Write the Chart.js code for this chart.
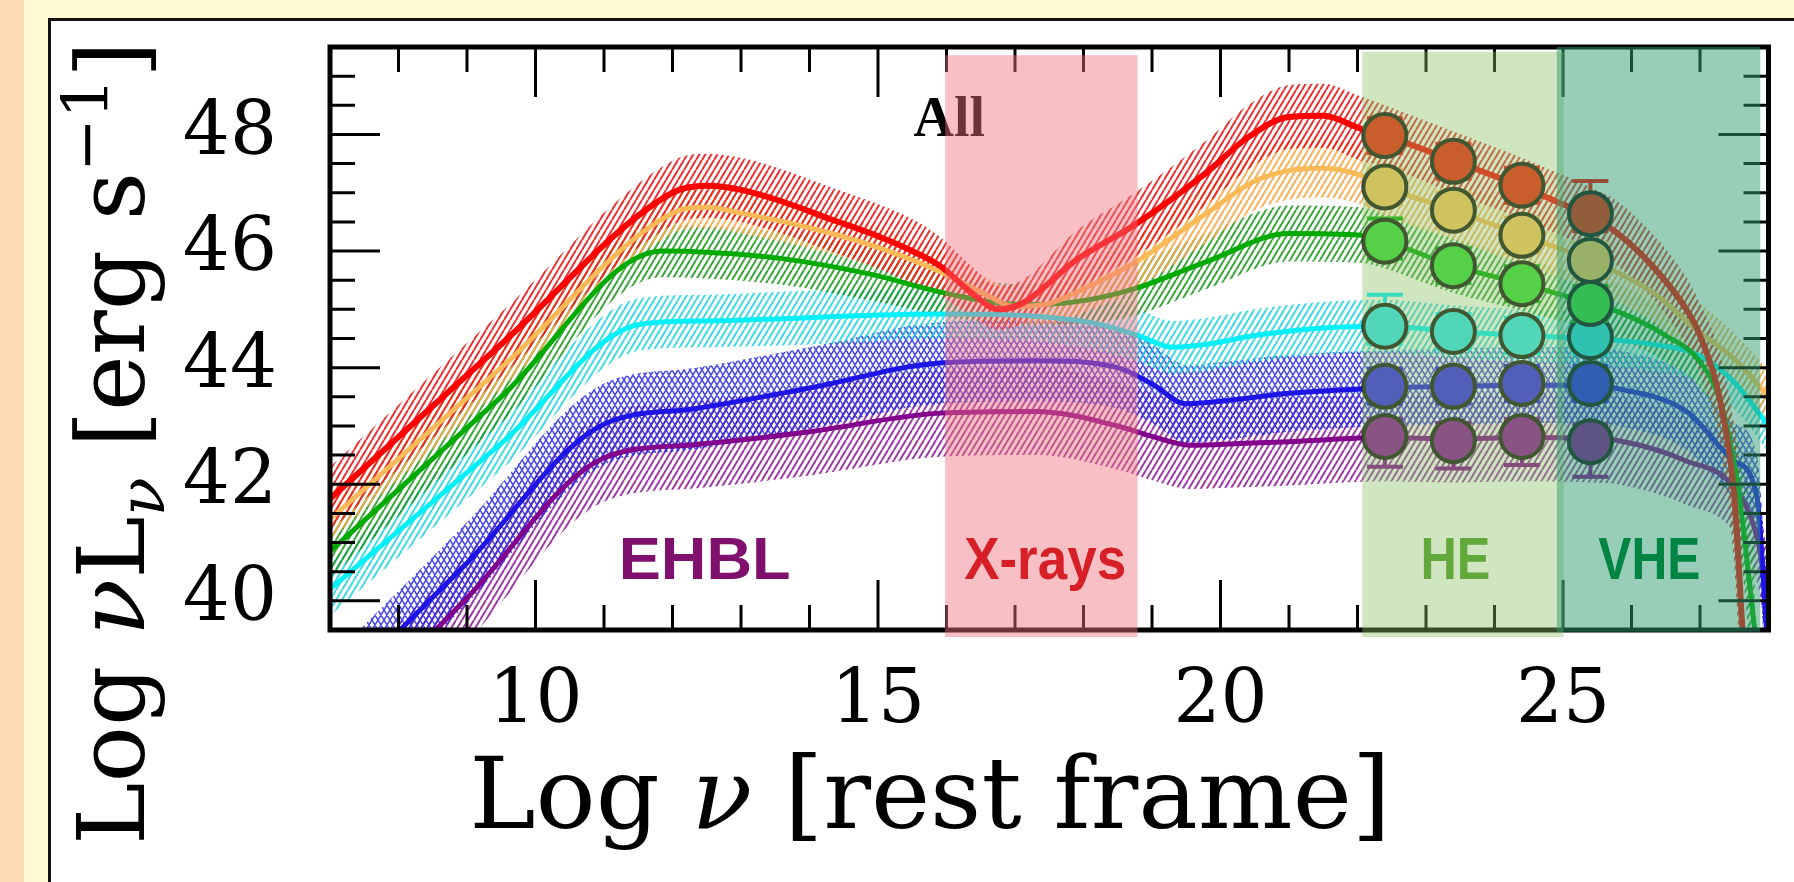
<!DOCTYPE html>
<html>
<head>
<meta charset="utf-8">
<title>SED sequence - All</title>
<script src="https://cdn.jsdelivr.net/npm/chart.js@4.4.1/dist/chart.umd.min.js"></script>
<style>
  html, body { margin: 0; padding: 0; }
  body { width: 1794px; height: 882px; position: relative; overflow: hidden; background: #fff9d1; }
  #strip { position: absolute; left: 0; top: 0; width: 24px; height: 882px; background: #fcdab2; }
  #panel { position: absolute; left: 48px; top: 18px; right: 0; bottom: 0; background: #fff;
           border-left: 3px solid #111; border-top: 3px solid #111; }
  #c { position: absolute; left: 0; top: 0; }
</style>
</head>
<body>
<div id="strip"></div>
<div id="panel"></div>
<canvas id="c" width="1794" height="882"></canvas>
<script>
// ---- model SEDs (log nu , log nuLnu) with upper / lower edge of the band ----
var redX = [7.0, 9.5, 12.0, 12.5, 13.0, 13.6, 14.3, 14.9, 15.5, 15.9, 16.4, 16.75, 17.1, 17.9, 18.75, 19.8, 20.4, 21.0, 21.5, 22.05, 22.4, 23.4, 24.4, 24.9, 25.4, 25.8, 26.3, 26.8, 27.0, 27.3, 27.5, 27.62];
var redY = [41.75, 44.4, 47.0, 47.12, 47.05, 46.85, 46.55, 46.3, 46.0, 45.75, 45.25, 45.0, 45.1, 45.85, 46.45, 47.35, 47.95, 48.3, 48.32, 48.1, 47.98, 47.55, 47.1, 46.85, 46.6, 46.3, 45.75, 45.0, 44.55, 43.4, 41.8, 39.5];
var redHi = [42.3, 44.95, 47.55, 47.67, 47.6, 47.4, 47.1, 46.85, 46.55, 46.25, 45.7, 45.4, 45.5, 46.35, 47.0, 47.9, 48.5, 48.85, 48.87, 48.65, 48.5, 48.05, 47.6, 47.35, 47.1, 46.85, 46.3, 45.55, 45.1, 44.2, 43.0, 41.6];
var redLo = [41.2, 43.85, 46.45, 46.57, 46.5, 46.3, 46.0, 45.75, 45.45, 45.25, 44.85, 44.65, 44.75, 45.35, 45.9, 46.8, 47.4, 47.75, 47.77, 47.55, 47.45, 47.0, 46.55, 46.3, 46.05, 45.75, 45.2, 44.4, 43.9, 42.6, 40.6, 38.0];

var orangeX = [7.0, 9.5, 12.0, 12.5, 13.0, 14.0, 14.9, 15.9, 16.5, 17.0, 17.5, 18.0, 18.75, 19.8, 20.5, 21.0, 21.5, 22.05, 22.4, 23.4, 24.4, 25.4, 26.3, 27.0, 27.5, 28.0];
var orangeY = [41.4, 44.0, 46.65, 46.75, 46.65, 46.4, 46.1, 45.65, 45.3, 45.05, 45.1, 45.35, 45.8, 46.65, 47.2, 47.38, 47.42, 47.3, 47.1, 46.7, 46.27, 45.84, 45.3, 44.6, 44.15, 43.5];
var orangeHi = [41.75, 44.35, 47.0, 47.1, 47.0, 46.75, 46.45, 46.0, 45.6, 45.35, 45.45, 45.75, 46.25, 47.15, 47.7, 47.88, 47.92, 47.8, 47.6, 47.2, 46.77, 46.34, 45.8, 45.1, 44.6, 43.95];
var orangeLo = [41.05, 43.65, 46.3, 46.4, 46.3, 46.05, 45.75, 45.3, 45.0, 44.75, 44.75, 44.95, 45.35, 46.15, 46.7, 46.88, 46.92, 46.8, 46.6, 46.2, 45.77, 45.34, 44.8, 44.1, 43.7, 43.05];

var greenX = [7.0, 9.5, 11.85, 12.5, 13.6, 14.9, 15.9, 16.8, 17.3, 18.0, 18.76, 19.8, 21.0, 22.05, 22.4, 23.4, 24.4, 25.4, 25.8, 26.5, 27.0, 27.3, 27.55, 27.8];
var greenY = [40.85, 43.5, 46.0, 45.98, 45.87, 45.6, 45.3, 45.1, 45.08, 45.15, 45.36, 45.82, 46.3, 46.27, 46.17, 45.75, 45.44, 45.1, 44.96, 44.55, 44.1, 43.4, 42.0, 39.5];
var greenHi = [41.3, 43.95, 46.45, 46.43, 46.32, 46.05, 45.7, 45.45, 45.43, 45.55, 45.8, 46.3, 46.78, 46.75, 46.65, 46.22, 45.9, 45.55, 45.42, 45.0, 44.55, 43.9, 42.7, 40.8];
var greenLo = [40.4, 43.05, 45.55, 45.53, 45.42, 45.15, 44.9, 44.75, 44.73, 44.75, 44.9, 45.35, 45.82, 45.8, 45.7, 45.28, 44.98, 44.65, 44.5, 44.1, 43.65, 42.9, 41.3, 38.2];

var cyanX = [7.0, 9.5, 11.55, 12.5, 13.6, 14.9, 16.0, 17.3, 18.2, 18.8, 19.3, 19.8, 20.5, 21.5, 22.4, 23.4, 24.4, 25.4, 26.3, 27.0, 27.5, 28.0];
var cyanY = [40.2, 42.7, 44.75, 44.8, 44.84, 44.9, 44.92, 44.88, 44.75, 44.55, 44.35, 44.4, 44.55, 44.68, 44.71, 44.62, 44.55, 44.5, 44.4, 44.2, 43.75, 43.0];
var cyanHi = [40.65, 43.15, 45.2, 45.25, 45.3, 45.35, 45.35, 45.3, 45.2, 45.0, 44.8, 44.85, 45.0, 45.13, 45.16, 45.07, 45.0, 44.95, 44.85, 44.65, 44.2, 43.45];
var cyanLo = [39.75, 42.25, 44.3, 44.35, 44.38, 44.45, 44.5, 44.45, 44.3, 44.1, 43.9, 43.95, 44.1, 44.23, 44.26, 44.17, 44.1, 44.05, 43.95, 43.75, 43.3, 42.55];

var blueX = [7.0, 9.0, 10.95, 12.35, 14.0, 15.9, 17.3, 18.5, 19.0, 19.5, 20.2, 21.0, 22.4, 23.4, 24.4, 25.4, 25.8, 26.8, 27.5, 27.83, 27.97];
var blueY = [38.3, 40.65, 43.0, 43.3, 43.65, 44.08, 44.12, 44.0, 43.72, 43.38, 43.45, 43.56, 43.65, 43.68, 43.7, 43.7, 43.64, 43.25, 42.4, 41.8, 39.5];
var blueHi = [39.0, 41.35, 43.7, 44.0, 44.35, 44.78, 44.82, 44.7, 44.4, 44.05, 44.12, 44.22, 44.3, 44.33, 44.35, 44.35, 44.3, 43.9, 43.05, 42.5, 40.5];
var blueLo = [37.6, 39.95, 42.3, 42.6, 42.95, 43.38, 43.42, 43.3, 43.05, 42.72, 42.78, 42.9, 43.0, 43.03, 43.05, 43.05, 43.0, 42.6, 41.75, 41.0, 38.5];

var purpleX = [7.0, 9.0, 11.0, 12.35, 14.0, 15.9, 17.3, 18.5, 19.0, 19.55, 20.3, 21.0, 22.4, 23.4, 24.4, 25.4, 25.8, 26.8, 27.5, 27.85, 28.05];
var purpleY = [37.65, 40.05, 42.45, 42.68, 42.9, 43.22, 43.25, 43.0, 42.82, 42.67, 42.7, 42.73, 42.8, 42.78, 42.8, 42.78, 42.75, 42.4, 41.93, 41.0, 39.5];
var purpleHi = [38.4, 40.8, 43.2, 43.43, 43.65, 43.97, 44.0, 43.75, 43.57, 43.42, 43.45, 43.48, 43.55, 43.53, 43.55, 43.53, 43.5, 43.15, 42.68, 41.75, 40.3];
var purpleLo = [36.9, 39.3, 41.7, 41.93, 42.15, 42.47, 42.5, 42.25, 42.07, 41.92, 41.95, 41.98, 42.05, 42.03, 42.05, 42.03, 42.0, 41.65, 41.18, 40.25, 38.7];

// ---- gamma-ray points (4 energy bins) ----
var ptX = [22.4, 23.4, 24.4, 25.4];
var ptRed = [47.98, 47.54, 47.13, 46.64];
var ptOrange = [47.1, 46.7, 46.27, 45.84];
var ptGreen = [46.17, 45.75, 45.44, 45.1];
var ptCyan = [44.71, 44.62, 44.55, 44.53];
var ptBlue = [43.68, 43.68, 43.73, 43.73];
var ptPurple = [42.82, 42.75, 42.82, 42.73];
var upRed = [0.3, 0.3, 0.3, 0.56], dnRed = [0.3, 0.3, 0.3, 0.3];
var upOrange = [0.3, 0.3, 0.3, 0.3], dnOrange = [0.3, 0.3, 0.3, 0.3];
var upGreen = [0.39, 0.3, 0.3, 0.3], dnGreen = [0.3, 0.3, 0.3, 0.3];
var upCyan = [0.54, 0.3, 0.3, 0.3], dnCyan = [0.3, 0.3, 0.3, 0.3];
var upBlue = [0.3, 0.3, 0.3, 0.3], dnBlue = [0.3, 0.3, 0.3, 0.3];
var upPurple = [0.3, 0.3, 0.3, 0.3], dnPurple = [0.52, 0.48, 0.49, 0.6];

// ---- axes ----
var xMin = 7, xMax = 28, xStep = 1, xMajor = 5;
var yMin = 39.5, yMax = 49.5, yStep = 0.5, yMajor = 2;

// ---- shaded energy ranges ----
var bandName = ['X-rays', 'HE', 'VHE'];
var bandFrom = [15.98, 22.07, 24.91];
var bandTo = [18.79, 25.01, 27.88];
var bandTop = [49.36, 49.42, 49.5];
var bandBottom = [39.38, 39.38, 39.47];

var tagText = ['EHBL', 'X-rays', 'HE', 'VHE'];
var tagX = [12.47, 17.44, 23.43, 26.26];
var tagY = 40.37;
var allX = 15.52, allY = 47.98;

var ctx = document.getElementById('c').getContext('2d');

// diagonal hatching used for the uncertainty bands
function hatch(color, w, h, lw, cross) {
	var c = document.createElement('canvas');
	c.width = w; c.height = h;
	var g = c.getContext('2d');
	g.strokeStyle = color;
	g.lineWidth = lw;
	g.beginPath();
	for (var k = -1; k <= 1; k++) {
		g.moveTo(k * w, h); g.lineTo(k * w + w, 0);
		if (cross) { g.moveTo(k * w, 0); g.lineTo(k * w + w, h); }
	}
	g.stroke();
	return ctx.createPattern(c, 'repeat');
}

var series = [
	{ x: redX, y: redY, hi: redHi, lo: redLo, line: '#ff0000', lw: 6, band: hatch('rgba(228,30,30,0.9)', 6, 10, 2), pt: ptRed, up: upRed, dn: dnRed, dot: '#f21d05' },
	{ x: orangeX, y: orangeY, hi: orangeHi, lo: orangeLo, line: '#fbb957', lw: 5, band: hatch('rgba(248,168,72,0.9)', 6, 10, 2), pt: ptOrange, up: upOrange, dn: dnOrange, dot: '#ffc55c' },
	{ x: greenX, y: greenY, hi: greenHi, lo: greenLo, line: '#00aa00', lw: 5, band: hatch('rgba(25,150,25,0.85)', 6, 10, 2), pt: ptGreen, up: upGreen, dn: dnGreen, dot: '#35dc35' },
	{ x: cyanX, y: cyanY, hi: cyanHi, lo: cyanLo, line: '#00f0fa', lw: 5, band: hatch('rgba(30,210,225,0.85)', 6, 10, 2), pt: ptCyan, up: upCyan, dn: dnCyan, dot: '#2ee6f0' },
	{ x: blueX, y: blueY, hi: blueHi, lo: blueLo, line: '#1e14e6', lw: 5, band: hatch('rgba(45,45,225,0.85)', 6, 10, 1.6, true), pt: ptBlue, up: upBlue, dn: dnBlue, dot: '#2f1ef0' },
	{ x: purpleX, y: purpleY, hi: purpleHi, lo: purpleLo, line: '#82008c', lw: 5, band: hatch('rgba(140,25,150,0.85)', 6, 10, 2), pt: ptPurple, up: upPurple, dn: dnPurple, dot: '#8a0a98' }
];

function pts(xs, ys) {
	return xs.map(function (v, k) { return { x: v, y: ys[k] }; });
}

var datasets = [];
series.forEach(function (s, i) {
	datasets.push({ data: pts(s.x, s.hi), borderWidth: 0, pointRadius: 0, fill: '+1', backgroundColor: s.band,
		cubicInterpolationMode: 'monotone', order: 2 + i, clip: 0 });
	datasets.push({ data: pts(s.x, s.lo), borderWidth: 0, pointRadius: 0, fill: false,
		cubicInterpolationMode: 'monotone', order: 2 + i, clip: 0 });
});
series.forEach(function (s) {
	datasets.push({ data: pts(s.x, s.y), borderColor: s.line, borderWidth: s.lw, pointRadius: 0, fill: false,
		cubicInterpolationMode: 'monotone', order: 1, clip: 0 });
});
series.forEach(function (s) {
	datasets.push({ data: pts(ptX, s.pt), showLine: false, pointRadius: 21.5, pointBackgroundColor: s.dot,
		pointBorderColor: '#111', pointBorderWidth: 4, order: 0, errUp: s.up, errDn: s.dn, errColor: s.line });
});

function isMult(v, m) { return Math.abs(v / m - Math.round(v / m)) < 1e-6; }

function drawRun(c, parts, cx, by) {
	var total = 0;
	parts.forEach(function (p) { c.font = p.f; total += c.measureText(p.t).width; });
	var x = cx - total / 2;
	parts.forEach(function (p) {
		c.font = p.f;
		c.fillText(p.t, x, by + (p.dy || 0));
		x += c.measureText(p.t).width;
	});
}

var decor = {
	id: 'decor',
	beforeDatasetDraw: function (chart, args) {
		var ds = chart.data.datasets[args.index];
		if (!ds.errUp) return;
		var c = chart.ctx, xs = chart.scales.x, ys = chart.scales.y;
		c.save();
		c.strokeStyle = ds.errColor;
		c.lineWidth = 4;
		c.beginPath();
		ds.data.forEach(function (p, k) {
			var px = xs.getPixelForValue(p.x);
			var t = ys.getPixelForValue(p.y + ds.errUp[k]);
			var b = ys.getPixelForValue(p.y - ds.errDn[k]);
			c.moveTo(px, t); c.lineTo(px, b);
			c.moveTo(px - 18, t); c.lineTo(px + 18, t);
			c.moveTo(px - 18, b); c.lineTo(px + 18, b);
		});
		c.stroke();
		c.restore();
	},
	afterDraw: function (chart) {
		var c = chart.ctx, a = chart.chartArea, xs = chart.scales.x, ys = chart.scales.y;
		c.save();
		// inward ticks on all four sides + frame
		c.strokeStyle = '#000';
		c.lineWidth = 3;
		c.beginPath();
		xs.ticks.forEach(function (t) {
			var px = xs.getPixelForValue(t.value);
			var len = isMult(t.value, xMajor) ? 50 : 25;
			c.moveTo(px, a.bottom); c.lineTo(px, a.bottom - len);
			c.moveTo(px, a.top); c.lineTo(px, a.top + len);
		});
		ys.ticks.forEach(function (t) {
			var py = ys.getPixelForValue(t.value);
			var len = isMult(t.value, yMajor) ? 50 : 25;
			c.moveTo(a.left, py); c.lineTo(a.left + len, py);
			c.moveTo(a.right, py); c.lineTo(a.right - len, py);
		});
		c.stroke();
		c.lineWidth = 5;
		c.strokeRect(a.left, a.top, a.right - a.left, a.bottom - a.top);

		c.fillStyle = '#000';
		c.textAlign = 'left';
		c.textBaseline = 'alphabetic';
		c.font = 'bold 56px "Liberation Serif"';
		c.fillText('All', xs.getPixelForValue(allX), ys.getPixelForValue(allY));

		// energy range overlays
		var fills = ['rgba(239,115,124,0.45)', 'rgba(135,192,100,0.4)', 'rgba(49,157,111,0.5)'];
		bandName.forEach(function (n, i) {
			var x0 = xs.getPixelForValue(bandFrom[i]), x1 = xs.getPixelForValue(bandTo[i]);
			var y0 = ys.getPixelForValue(bandTop[i]), y1 = ys.getPixelForValue(bandBottom[i]);
			c.fillStyle = fills[i];
			c.fillRect(x0, y0, x1 - x0, y1 - y0);
		});

		// labels
		var tagColor = ['#80106e', '#d61f26', '#62a83a', '#008544'];
		var tagWidth = [172, 162, 70, 102];
		c.font = 'bold 60px "Liberation Sans"';
		c.textAlign = 'left';
		tagText.forEach(function (t, i) {
			var w = c.measureText(t).width;
			c.save();
			c.translate(xs.getPixelForValue(tagX[i]), ys.getPixelForValue(tagY));
			c.scale(tagWidth[i] / w, 1);
			c.fillStyle = tagColor[i];
			c.fillText(t, -w / 2, 0);
			c.restore();
		});

		// axis titles
		c.fillStyle = '#000';
		c.textAlign = 'left';
		drawRun(c, [{ t: 'Log ', f: '100px "DejaVu Serif"' }, { t: '\u03bd', f: 'italic 100px "DejaVu Serif"' },
			{ t: ' [rest frame]', f: '100px "DejaVu Serif"' }], 930, 828);
		var f = '94px "DejaVu Serif"', fi = 'italic 94px "DejaVu Serif"';
		c.save();
		c.translate(144, 443);
		c.rotate(-Math.PI / 2);
		drawRun(c, [{ t: 'Log ', f: f }, { t: '\u03bd', f: fi }, { t: 'L', f: f }, { t: '\u03bd', f: 'italic 64px "DejaVu Serif"', dy: 20 },
			{ t: ' [erg s', f: f }, { t: '\u22121', f: '64px "DejaVu Serif"', dy: -36 }, { t: ']', f: f }], 0, 0);
		c.restore();
		c.restore();
	}
};

var chart = new Chart(ctx, {
	type: 'line',
	data: { datasets: datasets },
	options: {
		responsive: false,
		animation: false,
		layout: { padding: { left: 0, top: 47, right: 10, bottom: 0 } },
		plugins: { legend: { display: false }, tooltip: { enabled: false } },
		scales: {
			x: {
				type: 'linear', min: xMin, max: xMax,
				grid: { display: false }, border: { display: false },
				afterFit: function (scale) { scale.height = 252; scale.paddingLeft = 0; scale.paddingRight = 0; },
				ticks: {
					stepSize: xStep, autoSkip: false, maxRotation: 0, minRotation: 0, padding: 20,
					color: '#000', font: { family: 'DejaVu Serif', size: 74 },
					callback: function (v) { return isMult(v, xMajor) ? String(v) : ''; }
				}
			},
			y: {
				type: 'linear', min: yMin, max: yMax,
				grid: { display: false }, border: { display: false },
				afterFit: function (scale) { scale.width = 330; scale.paddingTop = 0; scale.paddingBottom = 0; },
				ticks: {
					stepSize: yStep, autoSkip: false, padding: 45,
					color: '#000', font: { family: 'DejaVu Serif', size: 74 },
					callback: function (v) { return isMult(v, yMajor) ? String(v) : ''; }
				}
			}
		}
	},
	plugins: [decor]
});
</script>
</body>
</html>
